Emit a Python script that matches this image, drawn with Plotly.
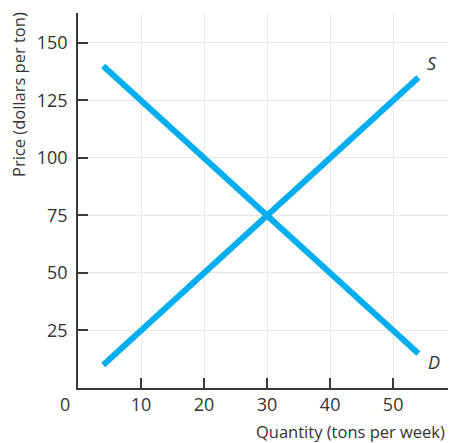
import plotly.graph_objects as go

# Data
supply_q = [4, 54]
supply_p = [10, 135]
demand_q = [4, 54]
demand_p = [140, 15]
x_ticks = [10, 20, 30, 40, 50]
y_ticks = [25, 50, 75, 100, 125, 150]

LINE_COLOR = "#00AEEF"
AXIS_COLOR = "#3a3a3a"
TEXT_COLOR = "#333333"
FONT = "Open Sans"

fig = go.Figure()
fig.add_trace(go.Scatter(x=supply_q, y=supply_p, mode="lines",
                         line=dict(color=LINE_COLOR, width=6), hoverinfo="skip"))
fig.add_trace(go.Scatter(x=demand_q, y=demand_p, mode="lines",
                         line=dict(color=LINE_COLOR, width=6), hoverinfo="skip"))

fig.update_layout(
    width=450, height=443,
    margin=dict(l=78, r=2, t=13, b=55),
    paper_bgcolor="white", plot_bgcolor="white",
    showlegend=False,
    font=dict(family=FONT, color=TEXT_COLOR, size=18),
    xaxis=dict(range=[0, 58.7], tickvals=x_ticks, ticks="inside", ticklen=10,
               tickwidth=1.5, tickcolor=AXIS_COLOR, showline=True, linecolor=AXIS_COLOR,
               linewidth=1.5, showgrid=True, gridcolor="#e8e8e8", gridwidth=1.2,
               zeroline=False, tickfont=dict(size=18, family=FONT, color=TEXT_COLOR),
               fixedrange=True),
    yaxis=dict(range=[0, 163], tickvals=y_ticks, ticks="inside", ticklen=10,
               tickwidth=1.5, tickcolor=AXIS_COLOR, showline=True, linecolor=AXIS_COLOR,
               linewidth=1.5, showgrid=True, gridcolor="#e8e8e8", gridwidth=1.2,
               zeroline=False, tickfont=dict(size=18, family=FONT, color=TEXT_COLOR),
               ticklabelstandoff=5, fixedrange=True),
)

annotations = [
    dict(text="0", x=65, y=404, size=18),
    dict(text="Quantity (tons per week)", x=447, y=431, xanchor="right", size=16.5),
    dict(text="Price (dollars per ton)", x=18, y=95, angle=-90, size=16.5),
    dict(text="<i>S</i>", x=432, y=63, size=18),
    dict(text="<i>D</i>", x=434, y=362, size=18),
]
for a in annotations:
    px, py = a["x"], a["y"]
    xp = (px - 78) / (450 - 78 - 2)
    yp = 1 - (py - 13) / (443 - 13 - 55)
    fig.add_annotation(text=a["text"], x=xp, y=yp, xref="paper", yref="paper",
                       xanchor=a.get("xanchor", "center"), yanchor="middle",
                       showarrow=False, textangle=a.get("angle", 0),
                       font=dict(family=FONT, size=a.get("size", 17), color=TEXT_COLOR))

fig.write_html("out.html", config={"displayModeBar": False},
               post_script="document.body.style.margin='0';document.body.style.overflow='hidden';")
